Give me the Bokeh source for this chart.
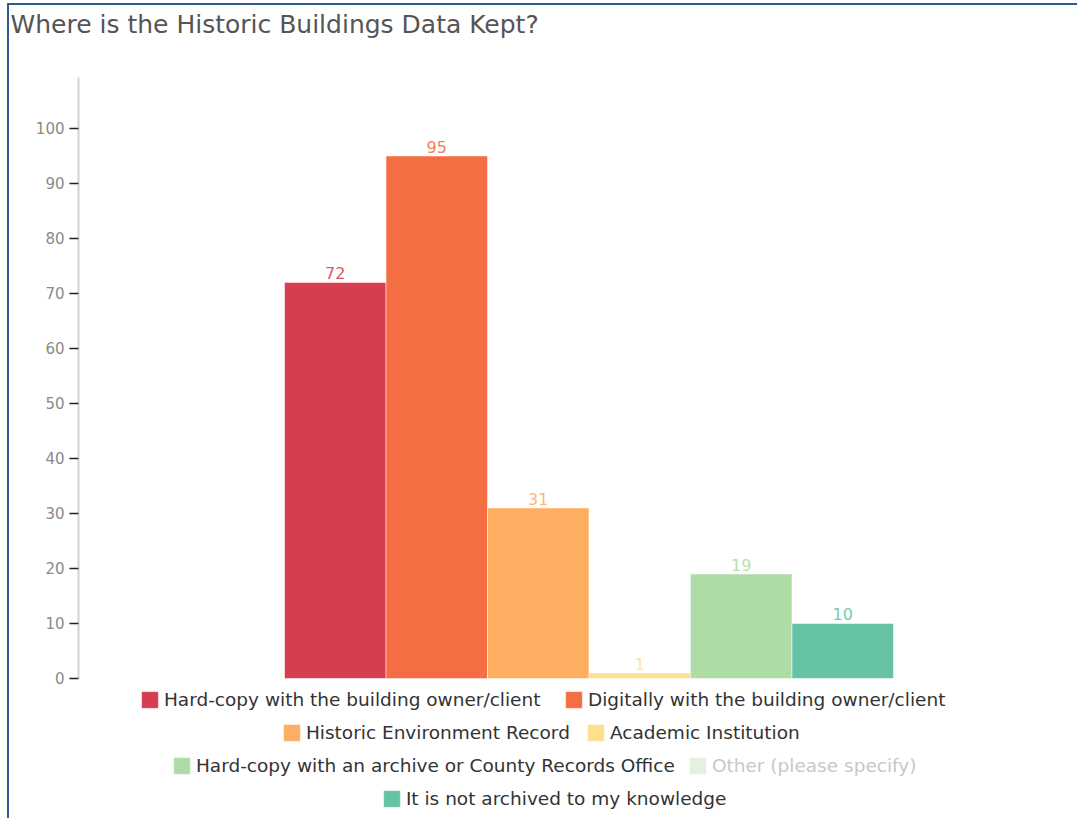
from bokeh.plotting import figure
from bokeh.models import ColumnDataSource, Legend, LegendItem, Range1d, FixedTicker, Title
from bokeh.core.properties import value
from bokeh.embed import file_html
from bokeh.resources import INLINE

# ---- data ----
categories = [
    "Hard-copy with the building owner/client",
    "Digitally with the building owner/client",
    "Historic Environment Record",
    "Academic Institution",
    "Hard-copy with an archive or County Records Office",
    "Other (please specify)",
    "It is not archived to my knowledge",
]
counts = [72, 95, 31, 1, 19, 0, 10]
shown = [True, True, True, True, True, False, True]   # "Other" series is switched off
colors = ["#d63e50", "#f46d43", "#fdae61", "#fee08b", "#addda4", "#e3f1de", "#66c2a5"]
y_ticks = [0, 10, 20, 30, 40, 50, 60, 70, 80, 90, 100]
title_text = "Where is the Historic Buildings Data Kept?"

# ---- layout constants (page pixels) ----
PAGE_X0, PAGE_Y0 = 9, 5          # canvas origin on the page (margin + border)
W, H = 1070, 815
FRAME_L, FRAME_T = 69, 68
frame_left_page = PAGE_X0 + FRAME_L
frame_bottom_page = PAGE_Y0 + H
legend_pos = [(141, 699), (565, 699), (283, 732), (587, 732), (173, 765), (689, 765), (383, 798)]
GLYPH = 21          # legend glyph box (bokeh insets the square by 10% on each side)

FONT = "DejaVu Sans"

p = figure(width=W, height=H, output_backend="svg", toolbar_location=None,
           x_range=Range1d(-2.53, 7.333), y_range=Range1d(-25.82, 110.0),
           min_border_left=FRAME_L, min_border_top=FRAME_T, min_border_right=0, min_border_bottom=0)
p.styles = {"border-top": "2px solid #2f5b95", "border-left": "2px solid #2f5b95",
            "margin-top": "3px", "margin-left": "7px"}
p.outline_line_color = None
p.grid.visible = False
p.xaxis.visible = False
p.background_fill_color = "white"
p.border_fill_color = "white"

# real title (outermost) and a thin spacer between it and the frame
p.title.text = title_text
p.title.align = "left"
p.title.vertical_align = "top"
p.title.offset = -(frame_left_page - 10)
p.title.standoff = 0
p.title.text_font = FONT
p.title.text_font_size = "25px"
p.title.text_font_style = "normal"
p.title.text_color = "#555555"
p.add_layout(Title(text=" ", text_font_size="1px", standoff=30), "above")

ax = p.yaxis[0]
ax.ticker = FixedTicker(ticks=y_ticks)
ax.bounds = (0, 109.3)
ax.axis_line_color = "#d4d4d4"
ax.axis_line_width = 2
ax.major_tick_line_color = "#222222"
ax.major_tick_line_width = 1.5
ax.major_tick_out = 9
ax.major_tick_in = 0
ax.minor_tick_line_color = None
ax.major_label_standoff = 5
ax.major_label_text_font = FONT
ax.major_label_text_font_size = "15px"
ax.major_label_text_color = "#8a8a8a"

# bars: one renderer per category so each has a legend entry
pos = 0
renderers = []
lab_x, lab_y, lab_t, lab_c = [], [], [], []
for cat, n, vis, col in zip(categories, counts, shown, colors):
    src = ColumnDataSource(dict(x=[pos], top=[n]))
    r = p.vbar(x="x", top="top", width=1.0, bottom=0, source=src,
               fill_color=col, line_color="white", line_alpha=0.5, line_width=1)
    r.visible = vis
    renderers.append(r)
    if vis:
        lab_x.append(pos); lab_y.append(n); lab_t.append(str(n)); lab_c.append(col)
        pos += 1

lsrc = ColumnDataSource(dict(x=lab_x, y=lab_y, t=lab_t, c=lab_c))
p.text(x="x", y="y", text="t", source=lsrc, text_color="c", text_alpha=0.9,
       text_align="center", text_baseline="bottom", y_offset=-3,
       text_font=value(FONT), text_font_size="16px")

# legends, one per item, placed like the reference's centered wrapping rows
for cat, vis, r, (px, py) in zip(categories, shown, renderers, legend_pos):
    lx = px - 0.1 * GLYPH - frame_left_page
    ly = frame_bottom_page - (py + GLYPH / 2)
    leg = Legend(items=[LegendItem(label=cat, renderers=[r])], location=(lx, ly),
                 orientation="horizontal", padding=0, margin=0,
                 border_line_alpha=0, background_fill_alpha=0,
                 glyph_width=GLYPH, glyph_height=GLYPH, label_height=GLYPH, label_standoff=4,
                 label_text_font=FONT, label_text_font_size="18.5px",
                 label_text_color="#333333" if vis else "#c8c8c8")
    p.add_layout(leg, "center")

open("out.html", "w").write(file_html(p, INLINE))
